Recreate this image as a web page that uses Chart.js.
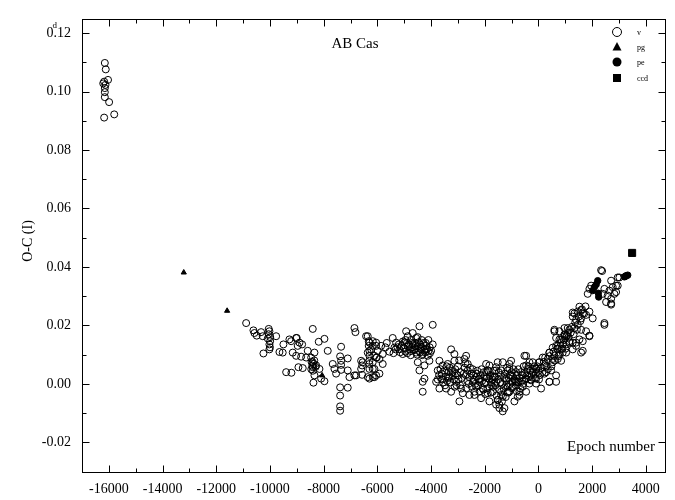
<!DOCTYPE html>
<html><head><meta charset="utf-8">
<script src="https://cdn.jsdelivr.net/npm/chart.js@4/dist/chart.umd.min.js"></script>
<style>html,body{margin:0;padding:0;background:#fff}#wrap{width:675px;height:500px}</style>
</head><body><div id="wrap"><canvas id="c" width="675" height="500"></canvas></div>
<script>
// ---- Data (epoch, O-C in days) ----
const chartTitle = 'AB Cas';
const xAxisTitle = 'Epoch number';
const yAxisTitle = 'O-C (I)';
const xTickValues = [-16000,-14000,-12000,-10000,-8000,-6000,-4000,-2000,0,2000,4000];
const yTickValues = [-0.02,0.00,0.02,0.04,0.06,0.08,0.10,0.12];
const seriesNames = ['v','pg','pe','ccd'];

const vEpoch = [
 -16150,-16115,-16030,-16175,-16210,-16125,-16150,-16150,-16150,-15990,-16175,-15800,
 -10887,-10615,-10578,-10492,-10329,-10269,-10046,-10020,-9993,-10020,
 -10020,-9770,-10243,-9647,-9498,-9211,-9003,-8965,-8802,-9152,
 -9025,-8839,-8593,-8652,-9397,-9200,-8939,-8779,-8466,-8406,
 -8406,-8343,-8406,-8183,-7971,-7848,-8280,-8157,-8343,-8380,
 -8094,-7971,-7662,-7599,-7536,-7350,-7387,-7350,-7350,-7350,
 -7103,-7103,-7103,-7387,-7387,-7387,-7387,-6854,-6817,-6854,
 -6604,-6567,-6567,-6358,-6321,-6321,-6295,-6295,-6295,-6295,
 -6295,-6109,-6046,-6023,
 -8450,-8380,-8420,-8350,-8300,-8460,-8400,-10050,-10080,-9990,
 -10000,-9525,-9275,-9025,-8900,-6420,-6295,-6172,-6358,-6046,
 -6295,-6172,-6358,-6046,-6545,-6604,-6790,-7040,
 -6172,-6046,-6232,-5986,-5860,-5800,-6109,-5923,-6172,-5800,-6109,-5923,-6172,
 -5428,-5301,-5364,-5178,-5055,-4929,-4869,-4992,-4806,-4683,
 -4683,-4556,-4433,-4556,-4370,-4311,-4184,-4124,-4061,-3938,
 -3998,-3938,-4433,-4496,-4247,-4311,-4247,-4311,
 -5250,-5100,-5000,-4950,-4850,-4750,-4700,-4600,-4500,-4450,
 -4400,-4350,-4250,-4200,-4900,-4750,-4600,-4500,-4350,-4200,
 -4100,-4050,-5400,-5550,-5700,-5650,
 -3689,-3752,-3566,-3380,-3253,-3130,-3130,-3193,-3316,-3625,
 -3811,-3689,-3439,-3253,-3066,-3007,-2880,-2820,-2944,-2694,
 -2634,-2634,-2571,-2448,-2322,-2199,-2385,-2571,-2757,-1950,
 -1890,-1827,-2076,-1764,-1518,-1577,-1640,-1577,-1391,-1331,
 -1455,-1268,-1518,-1205,-1082,-1018,-832,-772,-959,-709,
 -1145,-523,-460,-586,-337,-460,-214,-88,-88,35,
 158,284,408,531,594,657,718,781,844,904,
 967,1030,1090,
 -3600,-3500,-3450,-3400,-3350,-3300,-3200,-3150,-3100,-3050,
 -3550,-3700,-3750,-3000,-2950,-2900,-2850,-2750,-2700,-2650,
 -2600,-2500,-2450,-2400,-2350,-2300,-2250,-2150,-2100,-2050,
 -2000,-1950,-1900,-1800,-1750,-1700,-1650,-1600,-1500,-1450,
 -1400,-1350,-1300,-1250,-1200,-1150,-1100,-1050,-1000,-950,
 -900,-850,-800,-750,-700,-650,-600,-550,-500,-400,
 -350,-300,-250,-150,-100,0,50,100,200,300,
 781,967,1153,1030,844,1153,1402,1276,657,844,
 1030,594,408,531,718,345,222,471,657,657,
 408,222,35,-88,-214,-337,-460,-275,-88,98,
 -460,-586,-709,-772,-896,-832,-1018,-1145,-1082,-1331,
 -1391,-1577,-1703,-1827,-1950,-2013,-2199,-2322,-2385,-2137,
 -1890,-1703,-1518,-1455,-1577,-1331,-1391,-1205,-1082,-959,
 -1640,-1827,
 2333,1898,1961,1835,2706,2766,2643,2580,2706,2519,
 2829,2952,2892,2456,2393,2706,3015,1526,1589,1462,
 1650,1339,1276,1402,1589,1775,1898,2020,2456,1462,
 1339,1589,1090,1775,1898,1526,1276,1650,1402,1153,
 967,781,594,904,531,718,408,1650,
 2456,1898,1589,1276,2952,2892,2706,2370,
 -4950,-4880,-4820,-4760,-4700,-4640,-4580,-4520,-4470,-4400,
 -4330,-4280,-4220,-4160,-4100,-4040,-5150,-5050,-5200,-5320,
 -3650,-3580,-3480,-3420,-3360,-3280,-3220,-3120,-3080,-2980,
 -2920,-2780,-2720,-2680,-2550,-2480,-2420,-2280,-2220,-2180,
 -2120,-2030,-1980,-1920,-1860,-1780,-1720,-1620,-1560,-1480,
 -1420,-1360,-1280,-1220,-1170,-1120,-1060,-990,-930,-870,
 -810,-740,-680,-620,-570,-480,-420,-370,-280,-200,
 -130,-50,20,
 150,250,350,420,480,560,620,700,750,820,
 880,950,1000,1060,1120,
 1200,1250,1310,1370,1430,1500,1560,1620,1700,1750
];
const vOC = [
 0.1098,0.1076,0.1040,0.1034,0.1028,0.1023,0.1012,0.0998,0.0981,0.0964,0.0911,0.0922,
 0.0208,0.0183,0.0174,0.0165,0.0177,0.0163,0.0188,0.0180,0.0146,0.0135,
 0.0118,0.0163,0.0104,0.0109,0.0135,0.0146,0.0157,0.0130,0.0135,0.0107,
 0.0096,0.0093,0.0113,0.0090,0.0040,0.0038,0.0057,0.0054,0.0090,0.0074,
 0.0057,0.0107,0.0188,0.0144,0.0154,0.0113,0.0063,0.0051,0.0029,0.0004,
 0.0018,0.0009,0.0068,0.0051,0.0035,0.0127,0.0094,0.0079,0.0065,0.0048,
 0.0087,0.0046,-0.0013,-0.0012,-0.0040,-0.0077,-0.0092,0.0191,0.0177,0.0029,
 0.0079,0.0063,0.0031,0.0163,0.0146,0.0130,0.0113,0.0096,0.0079,0.0051,
 0.0018,0.0023,0.0141,0.0090,
 0.0075,0.0068,0.0062,0.0080,0.0058,0.0050,0.0045,0.0170,0.0155,0.0160,
 0.0125,0.0107,0.0152,0.0157,0.0141,0.0163,0.0141,0.0130,0.0107,0.0090,
 0.0068,0.0051,0.0023,0.0029,0.0074,0.0051,0.0029,0.0023,
 0.0146,0.0130,0.0118,0.0113,0.0130,0.0102,0.0096,0.0085,0.0074,0.0068,0.0051,0.0035,0.0023,
 0.0157,0.0141,0.0124,0.0118,0.0102,0.0180,0.0163,0.0141,0.0118,0.0135,
 0.0174,0.0157,0.0197,0.0107,0.0118,0.0102,0.0130,0.0096,0.0079,0.0135,
 0.0113,0.0202,0.0046,0.0074,0.0063,0.0007,0.0018,-0.0027,
 0.0125,0.0130,0.0122,0.0110,0.0128,0.0112,0.0125,0.0118,0.0128,0.0112,
 0.0108,0.0125,0.0115,0.0120,0.0140,0.0150,0.0140,0.0160,0.0150,0.0140,
 0.0112,0.0125,0.0105,0.0110,0.0125,0.0140,
 0.0079,0.0046,0.0063,0.0068,0.0118,0.0102,0.0079,0.0040,0.0023,0.0018,
 0.0007,-0.0016,-0.0016,-0.0027,0.0007,0.0029,-0.0016,-0.0032,-0.0060,0.0096,
 0.0068,0.0046,0.0023,0.0007,0.0035,0.0007,-0.0027,-0.0038,0.0085,0.0068,
 0.0046,0.0018,-0.0016,-0.0004,0.0074,0.0046,0.0023,0.0007,-0.0027,-0.0044,
 -0.0071,-0.0083,-0.0055,0.0018,0.0051,0.0079,0.0040,0.0007,-0.0010,-0.0038,
 -0.0027,0.0096,0.0063,0.0029,0.0001,-0.0027,0.0074,0.0051,0.0018,0.0074,
 0.0090,0.0040,0.0007,0.0085,0.0185,0.0157,0.0130,0.0102,0.0079,0.0107,
 0.0169,0.0135,0.0191,
 0.0035,0.0045,0.0025,0.0010,0.0040,0.0055,0.0030,0.0015,0.0050,-0.0005,
 0.0005,0.0030,0.0015,0.0060,0.0080,0.0040,0.0020,0.0055,0.0030,0.0010,
 0.0000,0.0035,0.0050,0.0015,0.0000,0.0025,-0.0005,0.0030,0.0010,-0.0020,
 0.0025,0.0005,-0.0015,0.0030,0.0005,-0.0010,0.0045,-0.0005,0.0015,-0.0020,
 0.0030,0.0000,-0.0015,0.0035,0.0010,-0.0010,0.0020,0.0000,0.0040,0.0025,
 0.0015,-0.0005,0.0030,0.0050,0.0020,0.0040,0.0010,0.0060,0.0035,0.0050,
 0.0025,0.0045,0.0030,0.0060,0.0035,0.0045,0.0030,0.0055,0.0075,0.0060,
 0.0180,0.0191,0.0185,0.0163,0.0152,0.0146,0.0141,0.0118,0.0130,0.0118,
 0.0107,0.0096,0.0107,0.0074,0.0085,0.0085,0.0063,0.0046,0.0029,0.0007,
 0.0007,0.0035,0.0074,0.0051,0.0040,0.0074,0.0096,0.0012,0.0001,-0.0016,
 0.0018,-0.0010,-0.0027,-0.0044,-0.0060,0.0007,0.0029,0.0046,0.0068,0.0074,
 0.0046,0.0057,0.0023,0.0063,0.0040,0.0001,0.0018,-0.0010,-0.0038,-0.0049,
 -0.0032,-0.0027,-0.0055,-0.0083,-0.0071,-0.0094,-0.0038,-0.0004,-0.0027,0.0007,
 0.0001,-0.0060,
 0.0389,0.0325,0.0336,0.0308,0.0353,0.0331,0.0319,0.0302,0.0291,0.0280,
 0.0308,0.0336,0.0314,0.0325,0.0308,0.0271,0.0364,0.0264,0.0252,0.0247,
 0.0241,0.0241,0.0230,0.0219,0.0224,0.0236,0.0247,0.0224,0.0202,0.0202,
 0.0191,0.0185,0.0174,0.0180,0.0163,0.0152,0.0141,0.0146,0.0130,0.0141,
 0.0163,0.0152,0.0180,0.0135,0.0124,0.0118,0.0107,0.0113,
 0.0208,0.0165,0.0107,0.0244,0.0364,0.0336,0.0275,0.0386,
 0.0150,0.0105,0.0135,0.0098,0.0140,0.0115,0.0130,0.0100,0.0142,0.0135,
 0.0098,0.0140,0.0108,0.0118,0.0150,0.0105,0.0108,0.0145,0.0135,0.0118,
 0.0050,0.0015,-0.0005,0.0060,0.0020,0.0005,0.0045,-0.0010,0.0035,0.0015,
 -0.0005,0.0035,0.0070,-0.0015,0.0055,-0.0010,0.0030,0.0045,0.0015,-0.0025,
 0.0050,0.0040,-0.0035,0.0020,0.0045,-0.0030,0.0015,0.0025,-0.0040,0.0040,
 0.0005,-0.0060,0.0020,-0.0045,0.0055,-0.0030,0.0030,-0.0015,0.0050,0.0010,
 -0.0025,0.0005,-0.0015,0.0030,0.0000,0.0015,0.0030,0.0060,0.0015,0.0050,
 0.0020,0.0060,0.0015,
 0.0040,0.0090,0.0050,0.0095,0.0060,0.0110,0.0080,0.0120,0.0095,0.0140,
 0.0120,0.0150,0.0120,0.0165,0.0160,
 0.0175,0.0195,0.0170,0.0210,0.0185,0.0230,0.0215,0.0255,0.0240,0.0265
];
const pgEpoch = [-13210,-11595,-8057];
const pgOC    = [0.0381,0.0250,0.0029];
const peEpoch = [2207,2150,2083,2020,2244,2230,3264,3325,3200,3240];
const peOC    = [0.0353,0.0340,0.0331,0.0319,0.0297,0.0310,0.0370,0.0372,0.0366,0.0368];
const ccdEpoch = [3488];
const ccdOC    = [0.0448];

const pts = (xs, ys) => xs.map((x, i) => ({x: x, y: ys[i]}));
const FONT = "'Liberation Serif','DejaVu Serif',serif";

const framePlugin = {
  id: 'frame',
  afterDraw(chart) {
    const {ctx, chartArea: a, scales: {x, y}} = chart;
    ctx.save();
    ctx.strokeStyle = '#000';
    ctx.lineWidth = 1;
    const L = Math.round(a.left) + 0.5, R = Math.round(a.right) - 0.5;
    const T = Math.round(a.top) + 0.5, B = Math.round(a.bottom) - 0.5;
    ctx.strokeRect(L, T, R - L, B - T);
    ctx.beginPath();
    for (let v = -17000; v <= 4000; v += 1000) {
      const px = Math.round(x.getPixelForValue(v)) + 0.5;
      const len = (v % 2000 === 0) ? 7 : 4;
      ctx.moveTo(px, B); ctx.lineTo(px, B - len);
      ctx.moveTo(px, T); ctx.lineTo(px, T + len);
    }
    for (let k = -3; k <= 12; k++) {
      const v = k / 100;
      const py = Math.round(y.getPixelForValue(v)) + 0.5;
      const len = (k % 2 === 0) ? 7 : 4;
      ctx.moveTo(L, py); ctx.lineTo(L + len, py);
      ctx.moveTo(R, py); ctx.lineTo(R - len, py);
    }
    ctx.stroke();

    ctx.fillStyle = '#000';
    ctx.font = '15px ' + FONT;
    ctx.textAlign = 'center'; ctx.textBaseline = 'middle';
    ctx.fillText(chartTitle, 355, 44);
    ctx.textAlign = 'right';
    ctx.fillText(xAxisTitle, 655, 447);
    ctx.save();
    ctx.translate(28, 241);
    ctx.rotate(-Math.PI / 2);
    ctx.textAlign = 'center';
    ctx.font = '14px ' + FONT;
    ctx.fillText(yAxisTitle, 0, 0);
    ctx.restore();
    ctx.font = '14px ' + FONT;
    const lbl = '0.12';
    const w = ctx.measureText(lbl).width;
    const w0 = ctx.measureText('0').width;
    const right = a.left - 11;
    const py12 = y.getPixelForValue(0.12);
    ctx.font = '9px ' + FONT;
    ctx.textAlign = 'left';
    ctx.fillText('d', right - w + w0 - 1, py12 - 7);

    const lx = 617, ly = [32, 47, 62, 78];
    ctx.lineWidth = 1;
    ctx.beginPath(); ctx.arc(lx, ly[0], 4.5, 0, Math.PI * 2); ctx.stroke();
    ctx.beginPath();
    ctx.moveTo(lx, ly[1] - 5); ctx.lineTo(lx + 4.5, ly[1] + 3.5); ctx.lineTo(lx - 4.5, ly[1] + 3.5); ctx.closePath(); ctx.fill();
    ctx.beginPath(); ctx.arc(lx, ly[2], 4.5, 0, Math.PI * 2); ctx.fill();
    ctx.fillRect(lx - 4, ly[3] - 4, 8, 8);
    ctx.font = '8px ' + FONT;
    ctx.textAlign = 'left'; ctx.textBaseline = 'middle';
    seriesNames.forEach((n, i) => ctx.fillText(n, 637, ly[i] + 1));
    ctx.restore();
  }
};

new Chart(document.getElementById('c'), {
  type: 'scatter',
  data: {
    datasets: [
      {label: seriesNames[0], data: pts(vEpoch, vOC), pointStyle: 'circle', pointRadius: 3.5,
       borderColor: '#000', backgroundColor: 'rgba(255,255,255,0)', borderWidth: 1},
      {label: seriesNames[1], data: pts(pgEpoch, pgOC), pointStyle: 'triangle', pointRadius: 3,
       borderColor: '#000', backgroundColor: '#000', borderWidth: 1},
      {label: seriesNames[2], data: pts(peEpoch, peOC), pointStyle: 'circle', pointRadius: 3.2,
       borderColor: '#000', backgroundColor: '#000', borderWidth: 1},
      {label: seriesNames[3], data: pts(ccdEpoch, ccdOC), pointStyle: 'rect', pointRadius: 5,
       borderColor: '#000', backgroundColor: '#000', borderWidth: 1}
    ]
  },
  options: {
    responsive: false,
    animation: false,
    devicePixelRatio: 1,
    layout: {padding: {top: 10, right: 9, left: 0, bottom: 0}},
    plugins: {legend: {display: false}, tooltip: {enabled: false}},
    scales: {
      x: {
        type: 'linear', min: -17000, max: 4750,
        grid: {display: false, drawTicks: false},
        border: {display: false},
        afterBuildTicks: s => { s.ticks = xTickValues.map(v => ({value: v})); },
        afterFit: s => { s.height = 27; },
        ticks: {color: '#000', padding: 8, maxRotation: 0, autoSkip: false,
                font: {family: FONT, size: 14}, callback: v => String(v)}
      },
      y: {
        type: 'linear', min: -0.0305, max: 0.1247,
        grid: {display: false, drawTicks: false},
        border: {display: false},
        afterBuildTicks: s => { s.ticks = yTickValues.map(v => ({value: v})); },
        afterFit: s => { s.width = 82; },
        ticks: {color: '#000', padding: 11, autoSkip: false,
                font: {family: FONT, size: 14}, callback: v => v.toFixed(2)}
      }
    }
  },
  plugins: [framePlugin]
});
</script>
</body></html>
